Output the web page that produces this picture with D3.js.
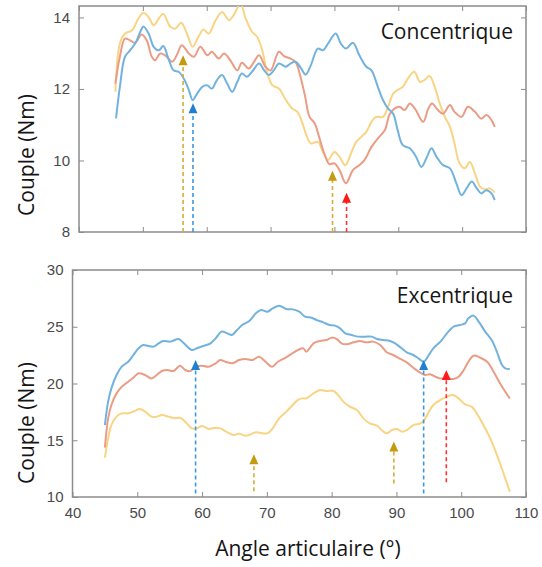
<!DOCTYPE html>
<html>
<head>
<meta charset="utf-8">
<script src="https://cdn.jsdelivr.net/npm/d3@7"></script>
<style>
  body { margin: 0; background: #fff; }
  .tick text { font-family: "Liberation Sans", Arial, sans-serif; font-size: 15px; fill: #4a4a4a; }
  .tick line { stroke: #8c8c8c; }
  .lbl { font-family: "Open Sans", Lato, sans-serif; fill: #151515; }
</style>
</head>
<body>
<div class="viz"></div>
<script>
// ---- data (angle en degrés, couple en Nm) ----
var xTicks = [40, 50, 60, 70, 80, 90, 100, 110]
var concTicks = [8, 10, 12, 14]
var excTicks = [10, 15, 20, 25, 30]

var concBlue = [[45.8,11.18],[46.4,12.06],[47.2,12.9],[48.0,13.08],[48.8,13.27],[49.6,13.6],[50.1,13.75],[50.9,13.55],[51.7,13.18],[52.5,13.08],[53.2,13.2],[54.0,12.85],[54.8,12.52],[55.6,12.48],[56.4,12.29],[57.2,11.97],[57.8,11.69],[58.5,11.87],[59.3,12.06],[60.1,12.1],[60.8,12.01],[61.6,12.25],[62.4,12.39],[63.2,12.15],[64.0,11.92],[64.8,12.2],[65.5,12.43],[66.3,12.34],[67.1,12.48],[68.2,12.71],[69.0,12.52],[69.7,12.39],[70.5,12.52],[71.3,12.71],[72.4,12.62],[73.1,12.71],[73.9,12.76],[74.7,12.6],[75.5,12.4],[76.3,12.66],[77.4,13.13],[78.2,13.08],[79.0,13.27],[80.2,13.55],[81.0,13.27],[81.8,13.13],[82.9,13.29],[83.9,12.94],[85.0,12.62],[85.8,12.52],[86.8,12.06],[87.6,11.69],[88.4,11.45],[89.2,11.31],[89.9,10.85],[90.7,10.43],[91.8,10.34],[92.8,10.1],[93.6,9.82],[94.4,10.06],[95.2,10.34],[96.0,10.1],[97.0,9.87],[98.1,9.78],[99.1,9.36],[99.9,9.03],[100.7,9.22],[101.5,9.41],[102.3,9.22],[103.0,9.08],[103.8,9.17],[104.6,9.08],[105.1,8.89]]
var concRed = [[45.7,12.15],[46.4,12.9],[47.2,13.41],[48.0,13.36],[48.8,13.29],[49.8,13.52],[50.6,13.36],[51.4,12.9],[51.9,12.8],[52.7,12.99],[53.5,12.94],[54.6,12.76],[55.3,12.94],[56.1,13.22],[57.2,12.99],[58.0,12.9],[59.0,13.18],[60.1,12.94],[60.8,13.04],[61.9,12.85],[62.7,12.99],[63.7,12.8],[64.8,12.52],[65.5,12.73],[66.6,12.57],[67.4,12.76],[68.2,12.94],[69.2,12.62],[70.0,12.52],[71.3,13.04],[72.1,12.92],[73.1,12.85],[73.9,12.76],[74.6,12.4],[75.4,11.8],[76.1,11.22],[76.9,11.04],[77.6,10.66],[78.4,10.2],[79.2,9.9],[80.0,9.92],[80.8,9.73],[81.8,9.36],[82.9,9.73],[83.9,9.87],[84.7,10.01],[85.8,10.38],[86.8,10.62],[87.9,10.85],[88.6,11.27],[89.4,11.45],[90.2,11.5],[91.0,11.41],[91.8,11.59],[92.6,11.45],[93.9,11.08],[94.7,11.45],[95.3,11.59],[96.2,11.41],[97.0,11.31],[98.1,11.55],[98.8,11.36],[99.9,11.22],[100.9,11.5],[102.0,11.36],[103.0,11.17],[103.8,11.27],[104.6,11.13],[105.1,10.94]]
var concYellow = [[45.7,11.92],[46.4,13.27],[47.2,13.55],[48.3,13.64],[49.3,13.97],[50.1,14.13],[50.9,14.01],[51.7,13.78],[52.5,13.97],[53.2,14.1],[54.3,13.74],[55.1,13.69],[56.0,13.85],[56.9,13.55],[57.8,13.18],[58.7,13.46],[59.5,13.66],[60.3,13.55],[61.4,13.92],[62.4,14.15],[63.5,13.92],[64.2,14.06],[65.3,14.38],[66.1,13.97],[67.1,13.6],[67.9,13.46],[68.7,13.08],[69.5,12.43],[70.3,12.1],[71.3,12.01],[72.4,11.69],[73.4,11.45],[74.2,11.36],[75.0,11.04],[75.5,10.76],[76.3,10.48],[77.4,10.52],[78.2,10.24],[79.0,10.01],[80.0,10.24],[80.8,10.1],[81.7,9.87],[82.6,10.2],[83.4,10.52],[84.2,10.66],[85.0,10.8],[85.8,11.08],[86.5,11.22],[87.6,11.22],[88.4,11.5],[89.2,11.87],[89.9,11.97],[90.7,12.06],[91.5,12.29],[92.5,12.48],[93.4,12.2],[94.1,12.25],[94.9,12.36],[95.7,12.06],[96.5,11.59],[97.3,11.22],[98.1,10.94],[98.8,10.48],[99.6,9.92],[100.4,9.78],[101.2,9.96],[102.0,9.64],[102.8,9.27],[103.6,9.19],[104.3,9.22],[105.1,9.1]]

var excBlue = [[45.0,16.34],[45.5,18.4],[46.0,19.57],[46.8,20.75],[47.6,21.48],[48.6,21.92],[49.4,22.51],[50.2,23.1],[50.9,23.39],[51.7,23.3],[52.5,23.25],[53.3,23.54],[54.0,23.74],[55.1,23.69],[56.4,23.92],[57.2,23.54],[58.4,22.95],[59.2,23.1],[60.3,23.33],[61.3,23.54],[62.1,23.98],[63.0,24.57],[63.9,24.42],[64.6,24.27],[65.4,24.71],[66.2,25.15],[67.3,25.51],[68.3,26.18],[69.1,26.48],[70.1,26.33],[70.9,26.62],[71.9,26.86],[73.0,26.56],[74.0,26.53],[75.0,26.33],[75.9,25.89],[76.9,25.8],[77.7,25.59],[78.7,25.39],[79.7,25.15],[80.5,25.1],[81.3,24.86],[82.1,24.42],[83.1,24.27],[84.1,24.13],[85.2,24.13],[86.2,24.13],[87.0,23.92],[88.0,23.83],[89.0,23.74],[89.8,23.54],[90.8,23.1],[91.6,22.75],[92.6,22.51],[93.4,22.22],[94.2,21.92],[95.0,22.51],[95.7,23.1],[96.8,23.69],[97.8,24.42],[98.8,25.0],[99.8,25.15],[100.6,25.3],[101.1,25.74],[101.9,25.98],[102.7,25.45],[103.7,24.57],[104.7,23.83],[105.5,22.8],[106.3,21.63],[106.8,21.34],[107.5,21.28]]
var excRed = [[45.0,14.35],[45.5,16.93],[46.0,18.11],[46.8,19.13],[47.6,19.72],[48.6,20.16],[49.4,20.51],[50.2,20.9],[51.2,20.75],[52.2,20.45],[53.0,20.75],[53.8,21.1],[54.6,21.19],[55.6,21.1],[56.6,21.57],[57.4,21.19],[58.2,21.1],[59.0,21.48],[60.0,21.57],[61.0,21.48],[62.1,21.78],[62.8,22.07],[63.6,21.92],[64.7,21.78],[65.7,22.07],[66.7,22.16],[67.8,22.07],[68.8,22.36],[69.8,21.92],[70.8,21.48],[71.7,21.92],[72.7,22.22],[73.7,22.57],[74.8,22.95],[75.6,23.1],[76.1,22.8],[77.2,23.54],[78.2,23.74],[79.2,23.83],[80.0,24.04],[80.8,23.92],[81.5,23.54],[82.3,23.45],[83.4,23.63],[84.4,23.74],[85.4,23.63],[86.4,23.69],[87.5,23.39],[88.5,22.75],[89.5,22.51],[90.6,22.16],[91.6,21.86],[92.6,21.39],[93.6,20.98],[94.4,20.75],[95.2,20.81],[96.0,20.6],[96.8,20.45],[97.8,20.45],[98.8,20.4],[99.6,20.6],[100.4,21.19],[101.1,21.92],[101.9,22.45],[102.9,22.28],[104.0,21.92],[105.0,21.04],[106.0,20.01],[106.8,19.28],[107.5,18.69]]
var excYellow = [[45.0,13.47],[45.5,15.17],[46.0,16.34],[46.8,17.08],[47.6,17.37],[48.6,17.37],[49.6,17.58],[50.4,17.75],[51.2,17.52],[52.2,17.08],[53.0,17.08],[53.8,17.22],[54.8,17.08],[55.9,16.93],[56.6,16.99],[57.4,16.64],[58.4,16.05],[59.2,16.05],[60.0,16.26],[61.0,15.99],[62.1,16.11],[62.8,16.05],[63.9,15.7],[64.9,15.46],[65.7,15.58],[66.7,15.4],[67.5,15.52],[68.3,15.7],[69.3,15.61],[70.1,15.61],[70.9,16.05],[71.9,16.93],[73.0,17.52],[74.0,18.11],[74.8,18.55],[75.5,18.69],[76.1,18.69],[77.2,19.13],[78.2,19.43],[79.2,19.34],[80.3,19.34],[81.0,18.99],[81.8,18.4],[82.8,17.96],[83.9,17.67],[84.9,16.93],[85.9,16.49],[87.0,16.28],[87.7,15.9],[88.5,15.61],[89.3,15.9],[90.1,15.99],[90.8,15.76],[91.6,15.9],[92.6,16.34],[93.7,16.49],[94.3,16.78],[95.0,17.52],[95.7,18.11],[96.8,18.55],[97.8,18.84],[98.7,18.99],[99.6,18.69],[100.6,18.16],[101.6,17.96],[102.7,17.08],[103.7,16.05],[104.7,14.88],[105.8,13.26],[106.8,11.64],[107.5,10.47]]

// flèches : [angle, couple pointe, couple base, couleur]
var concArrows = [[56.3, 12.94, 8, "gold"], [57.85, 11.6, 8, "blue"], [79.7, 9.71, 8, "gold"], [81.9, 9.1, 8, "red"]]
var excArrows = [[59.0, 22.07, 10.3, "blue"], [68.0, 13.76, 10.5, "gold"], [89.6, 14.88, 11.2, "gold"], [94.2, 22.07, 10.3, "blue"], [97.7, 21.19, 11.3, "red"]]

var lineColors = {blue: "#72b2de", red: "#eb9c85", yellow: "#f8d484"}
var arrowColors = {gold: "#c39a10", blue: "#1f7fd0", red: "#ff1a1a"}
var dashColors = {gold: "#d6ad35", blue: "#3e98de", red: "#ff3333"}

var svg = d3.select(".viz")
  .append("svg")
    .attr("width", 542)
    .attr("height", 567)

function drawPanel(p) {
  var x = d3.scaleLinear().domain([40, 110]).range([p.left, 526])
  var y = d3.scaleLinear().domain(p.ydom).range([p.bottom, p.top])
  var g = svg.append("g")

  g.append("clipPath").attr("id", "clip-" + p.id)
    .append("rect")
      .attr("x", p.left).attr("y", p.top)
      .attr("width", 526 - p.left).attr("height", p.bottom - p.top)

  // ticks inward on every side (matlab box)
  g.append("g").attr("transform", "translate(0," + p.bottom + ")")
    .call(d3.axisBottom(x).tickValues(xTicks).tickSize(-5).tickSizeOuter(0).tickPadding(10)
      .tickFormat(p.xlabels ? d3.format("d") : ""))
  g.append("g").attr("transform", "translate(0," + p.top + ")")
    .call(d3.axisTop(x).tickValues(xTicks).tickSize(-5).tickSizeOuter(0).tickFormat(""))
  g.append("g").attr("transform", "translate(" + p.left + ",0)")
    .call(d3.axisLeft(y).tickValues(p.yticks).tickSize(-5).tickSizeOuter(0).tickPadding(9)
      .tickFormat(d3.format("d")))
  g.append("g").attr("transform", "translate(526,0)")
    .call(d3.axisRight(y).tickValues(p.yticks).tickSize(-5).tickSizeOuter(0).tickFormat(""))
  g.selectAll(".domain").remove()
  g.selectAll(".tick line").attr("stroke", "#8c8c8c")

  g.append("rect")
    .attr("x", p.left).attr("y", p.top)
    .attr("width", 526 - p.left).attr("height", p.bottom - p.top)
    .attr("fill", "none").attr("stroke", "#8c8c8c").attr("stroke-width", 1.5)

  var line = d3.line()
    .x(d => x(d[0]))
    .y(d => y(d[1]))
    .curve(d3.curveCatmullRom)

  var lines = g.append("g").attr("clip-path", "url(#clip-" + p.id + ")")
  p.series.forEach(function(s) {
    lines.append("path")
      .datum(s.data)
      .attr("fill", "none")
      .attr("stroke", lineColors[s.color])
      .attr("stroke-width", 2)
      .attr("d", line)
  })

  // dashed arrows
  p.arrows.forEach(function(a) {
    var ax = x(a[0]), tip = y(a[1]), base = y(a[2])
    g.append("line")
      .attr("x1", ax).attr("x2", ax)
      .attr("y1", base).attr("y2", tip + 8)
      .attr("stroke", dashColors[a[3]])
      .attr("stroke-width", 1.6)
      .attr("stroke-dasharray", "4,3")
    g.append("path")
      .attr("d", "M" + ax + "," + tip + "L" + (ax - 4.5) + "," + (tip + 10) + "L" + (ax + 4.5) + "," + (tip + 10) + "Z")
      .attr("fill", arrowColors[a[3]])
  })

  g.append("text")
    .attr("class", "lbl")
    .attr("x", 513).attr("y", p.titleY)
    .attr("text-anchor", "end")
    .style("font-size", "21px")
    .text(p.title)

  g.append("text")
    .attr("class", "lbl")
    .attr("transform", "translate(34," + p.ylabelY + ") rotate(-90)")
    .attr("text-anchor", "middle")
    .style("font-size", "21px")
    .text("Couple (Nm)")
}

drawPanel({id: "conc", left: 79, top: 6, bottom: 232, ydom: [8, 14.32], yticks: concTicks,
  xlabels: false, title: "Concentrique", titleY: 39, ylabelY: 155,
  series: [{data: concYellow, color: "yellow"}, {data: concRed, color: "red"}, {data: concBlue, color: "blue"}],
  arrows: concArrows})

drawPanel({id: "exc", left: 72.5, top: 270, bottom: 497, ydom: [10, 30], yticks: excTicks,
  xlabels: true, title: "Excentrique", titleY: 303, ylabelY: 423,
  series: [{data: excYellow, color: "yellow"}, {data: excRed, color: "red"}, {data: excBlue, color: "blue"}],
  arrows: excArrows})

svg.append("text")
  .attr("class", "lbl")
  .attr("x", 308).attr("y", 556)
  .attr("text-anchor", "middle")
  .style("font-size", "21px")
  .text("Angle articulaire (°)")
</script>
</body>
</html>
